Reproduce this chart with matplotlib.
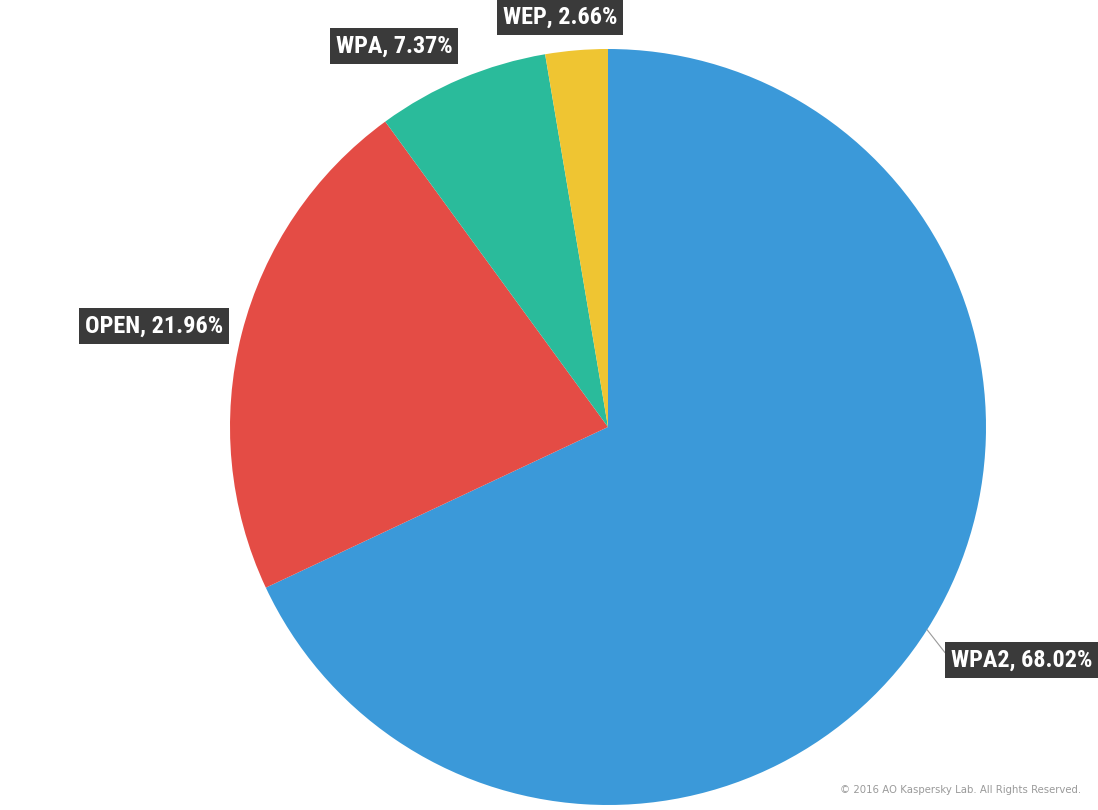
import matplotlib
matplotlib.use("Agg")
import matplotlib.pyplot as plt
from matplotlib import font_manager as fm
import numpy as np

# data
categories = ["WPA2", "OPEN", "WPA", "WEP"]
values = [68.02, 21.96, 7.37, 2.66]
colors = ["#3B99D9", "#E44C45", "#2ABB9B", "#EFC532"]

# layout (pixel coordinates, y from bottom)
W, H = 1098, 810
center = (608, H - 427)
radius = 378
label_pos = [(1022, H - 660), (154, H - 326), (394, H - 46), (560, H - 17)]
draw_line = [True, False, False, False]

names = {f.name for f in fm.fontManager.ttflist}
cond_candidates = ["DejaVu Sans Condensed", "Liberation Sans Narrow",
                   "Roboto Condensed", "Open Sans Condensed", "Noto Sans Condensed"]
cond = [c for c in cond_candidates if c in names]
label_family = (cond[:1] or ["DejaVu Sans"]) + ["DejaVu Sans"]
label_size = 17.5 if cond else 15

fig = plt.figure(figsize=(W / 100, H / 100), dpi=100)
ax = fig.add_axes([0, 0, 1, 1])
ax.set_xlim(0, W)
ax.set_ylim(0, H)
ax.set_aspect("equal")
ax.axis("off")

wedges, _ = ax.pie(values, colors=colors, startangle=90, counterclock=False,
                   center=center, radius=radius,
                   wedgeprops=dict(linewidth=0))
ax.set_xlim(0, W)
ax.set_ylim(0, H)

for w, cat, val, pos, line in zip(wedges, categories, values, label_pos, draw_line):
    ang = np.deg2rad((w.theta1 + w.theta2) / 2)
    ex = center[0] + radius * np.cos(ang)
    ey = center[1] + radius * np.sin(ang)
    txt = f"{cat}, {val:.2f}%"
    kw = dict(ha="center", va="center", fontsize=label_size, fontweight="bold",
              fontstretch="condensed",
              color="white", family=label_family,
              bbox=dict(boxstyle="square,pad=0.25", fc="#3a3a3a", ec="none"),
              zorder=5)
    if line:
        ax.annotate(txt, xy=(ex, ey), xytext=pos,
                    arrowprops=dict(arrowstyle="-", color="#9a9a9a", lw=0.8,
                                    connectionstyle="angle,angleA=0,angleB=-52,rad=0",
                                    shrinkA=0, shrinkB=0),
                    **kw)
    else:
        ax.text(pos[0], pos[1], txt, **kw)

ax.text(1081, H - 790, "© 2016 AO Kaspersky Lab. All Rights Reserved.",
        ha="right", va="center", fontsize=7.3, color="#9a9a9a")

fig.savefig("out.png", dpi=100)
